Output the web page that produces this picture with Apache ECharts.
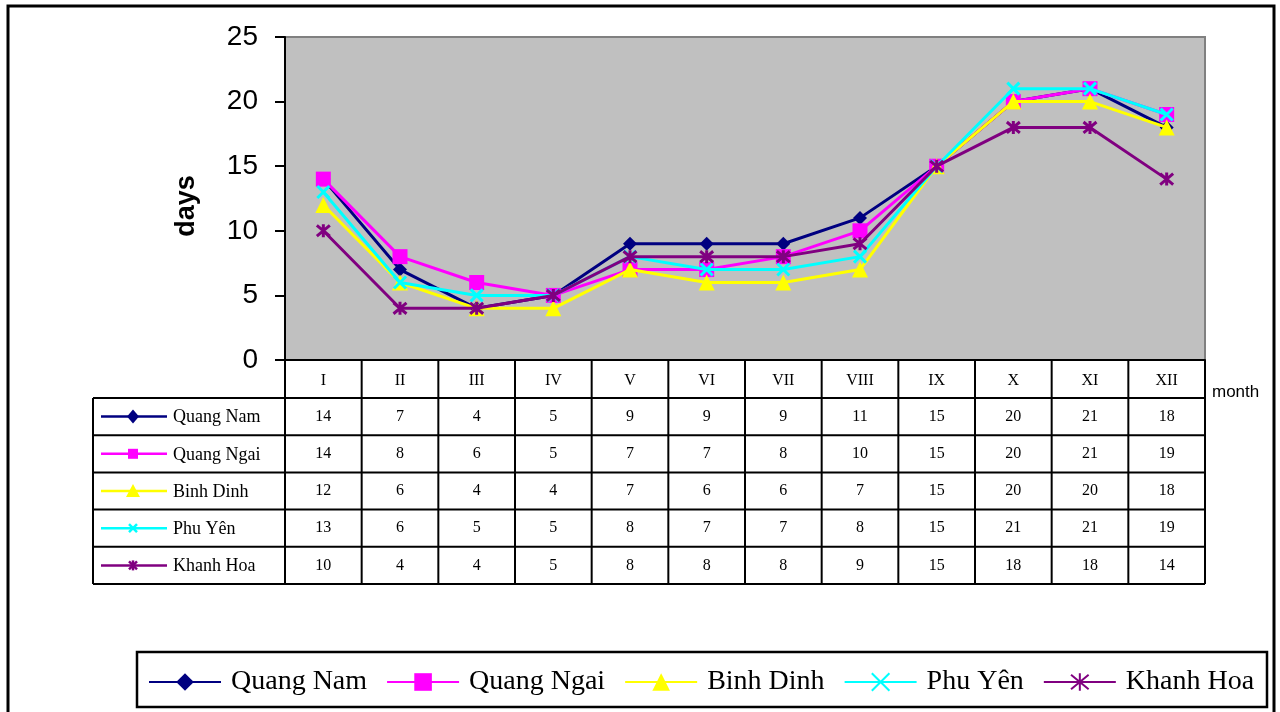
<!DOCTYPE html>
<html>
<head>
<meta charset="utf-8">
<script src="https://cdn.jsdelivr.net/npm/echarts@6/dist/echarts.min.js"></script>
<style>
  html, body { margin: 0; padding: 0; background: #fff; }
  #chart { width: 1280px; height: 712px; }
</style>
</head>
<body>
<div id="chart"></div>
<script>
// Monthly number of days, by province
const months = ['I', 'II', 'III', 'IV', 'V', 'VI', 'VII', 'VIII', 'IX', 'X', 'XI', 'XII'];
const provinces = ['Quang Nam', 'Quang Ngai', 'Binh Dinh', 'Phu Yên', 'Khanh Hoa'];
const quangNam  = [14, 7, 4, 5, 9, 9, 9, 11, 15, 20, 21, 18];
const quangNgai = [14, 8, 6, 5, 7, 7, 8, 10, 15, 20, 21, 19];
const binhDinh  = [12, 6, 4, 4, 7, 6, 6, 7, 15, 20, 20, 18];
const phuYen    = [13, 6, 5, 5, 8, 7, 7, 8, 15, 21, 21, 19];
const khanhHoa  = [10, 4, 4, 5, 8, 8, 8, 9, 15, 18, 18, 14];
const yTicks = [0, 5, 10, 15, 20, 25];

const seriesData = [quangNam, quangNgai, binhDinh, phuYen, khanhHoa];
const colors = ['#000080', '#FF00FF', '#FFFF00', '#00FFFF', '#800080'];
const crossPath = 'path://M0,0L10,10M10,0L0,10';
const starPath = 'path://M0,0L10,10M10,0L0,10M5,-1L5,11';
const symbols = ['diamond', 'rect', 'triangle', crossPath, starPath];
const symbolSizes = [14, 15, 16, 12, 13];

const serif = '"Liberation Serif", "Times New Roman", serif';
const sans = '"Liberation Sans", Arial, sans-serif';

const chart = echarts.init(document.getElementById('chart'));

const series = provinces.map((name, i) => {
  const stroked = i >= 3;
  return {
    name,
    type: 'line',
    data: seriesData[i],
    symbol: symbols[i],
    symbolSize: symbolSizes[i],
    showAllSymbol: true,
    color: colors[i],
    lineStyle: { color: colors[i], width: 3 },
    itemStyle: stroked
      ? { color: colors[i], borderColor: colors[i], borderWidth: 3 }
      : { color: colors[i], borderWidth: 0 },
    emphasis: { disabled: true },
    animation: false,
    z: 3 + i
  };
});

chart.setOption({
  animation: false,
  backgroundColor: '#ffffff',
  grid: {
    left: 285, right: 75, top: 37, bottom: 352,
    show: true,
    backgroundColor: '#C0C0C0',
    borderColor: '#808080',
    borderWidth: 2
  },
  xAxis: {
    type: 'category',
    data: months,
    boundaryGap: true,
    axisLine: { show: true, lineStyle: { color: '#000', width: 2 } },
    axisTick: { show: false },
    axisLabel: {
      show: true, margin: 13, color: '#000',
      fontFamily: serif, fontSize: 16
    },
    splitLine: { show: false }
  },
  yAxis: {
    type: 'value',
    min: yTicks[0],
    max: yTicks[yTicks.length - 1],
    interval: 5,
    axisLine: { show: true, lineStyle: { color: '#000', width: 2 } },
    axisTick: { show: true, inside: false, length: 10, lineStyle: { color: '#000', width: 2 } },
    axisLabel: { margin: 27, color: '#000', fontFamily: sans, fontSize: 28 },
    splitLine: { show: false }
  },
  legend: {
    data: provinces,
    left: 143,
    top: 663,
    itemWidth: 72,
    itemHeight: 22,
    itemGap: 19,
    textStyle: { fontFamily: serif, fontSize: 28, color: '#000', padding: [0, 0, 0, 5] },
    selectedMode: false
  },
  series
});

// Data table under the plot, laid out along the category axis
function buildTable() {
  const els = [];
  const plotLeft = 285, plotRight = 1205;
  const colW = (plotRight - plotLeft) / months.length;
  const headTop = 360, rowTop = 398, rowH = 37.2;
  const tableLeft = 93;
  const tableBottom = rowTop + rowH * provinces.length;
  const lw = 2;

  // outer frame of the whole figure
  els.push({ type: 'rect', shape: { x: 8, y: 6, width: 1266, height: 720 },
    style: { fill: null, stroke: '#000', lineWidth: 3 }, z: 10 });

  // legend frame
  els.push({ type: 'rect', shape: { x: 137, y: 652, width: 1130, height: 55 },
    style: { fill: null, stroke: '#000', lineWidth: 2.5 }, z: 10 });

  // axis title
  els.push({ type: 'text', x: 187, y: 206, rotation: Math.PI / 2,
    style: { text: 'days', fill: '#000', font: 'bold 27px ' + sans, align: 'center', verticalAlign: 'middle' }, z: 11 });

  // horizontal rules
  for (let r = 0; r <= provinces.length; r++) {
    const y = rowTop + r * rowH;
    els.push({ type: 'line', shape: { x1: tableLeft, y1: y, x2: plotRight, y2: y },
      style: { stroke: '#000', lineWidth: lw }, z: 10 });
  }
  // vertical rules
  els.push({ type: 'line', shape: { x1: tableLeft, y1: rowTop, x2: tableLeft, y2: tableBottom },
    style: { stroke: '#000', lineWidth: lw }, z: 10 });
  for (let c = 0; c <= months.length; c++) {
    const x = plotLeft + c * colW;
    els.push({ type: 'line', shape: { x1: x, y1: headTop, x2: x, y2: tableBottom },
      style: { stroke: '#000', lineWidth: lw }, z: 10 });
  }

  // values
  provinces.forEach((name, r) => {
    const cy = rowTop + r * rowH + rowH / 2;
    seriesData[r].forEach((v, c) => {
      const cx = chart.convertToPixel({ xAxisIndex: 0 }, c);
      els.push({ type: 'text', x: cx, y: cy,
        style: { text: String(v), fill: '#000', font: '16px ' + serif, align: 'center', verticalAlign: 'middle' }, z: 11 });
    });
    // row key: line + marker + name
    const col = colors[r];
    els.push({ type: 'line', shape: { x1: 101, y1: cy, x2: 167, y2: cy },
      style: { stroke: col, lineWidth: 2.5 }, z: 11 });
    const mx = 133;
    if (r === 0) {
      els.push({ type: 'polygon', shape: { points: [[mx, cy - 7], [mx + 6, cy], [mx, cy + 7], [mx - 6, cy]] },
        style: { fill: col }, z: 12 });
    } else if (r === 1) {
      els.push({ type: 'rect', shape: { x: mx - 5, y: cy - 5, width: 10, height: 10 },
        style: { fill: col }, z: 12 });
    } else if (r === 2) {
      els.push({ type: 'polygon', shape: { points: [[mx, cy - 7], [mx + 7, cy + 6], [mx - 7, cy + 6]] },
        style: { fill: col }, z: 12 });
    } else {
      const s = 4;
      els.push({ type: 'line', shape: { x1: mx - s, y1: cy - s, x2: mx + s, y2: cy + s },
        style: { stroke: col, lineWidth: 2.5 }, z: 12 });
      els.push({ type: 'line', shape: { x1: mx - s, y1: cy + s, x2: mx + s, y2: cy - s },
        style: { stroke: col, lineWidth: 2.5 }, z: 12 });
      if (r === 4) {
        els.push({ type: 'line', shape: { x1: mx, y1: cy - s - 1, x2: mx, y2: cy + s + 1 },
          style: { stroke: col, lineWidth: 2.5 }, z: 12 });
      }
    }
    els.push({ type: 'text', x: 173, y: cy + 1,
      style: { text: name, fill: '#000', font: '18px ' + serif, align: 'left', verticalAlign: 'middle' }, z: 11 });
  });

  // axis caption for months
  els.push({ type: 'text', x: 1212, y: 392,
    style: { text: 'month', fill: '#000', font: '17px ' + sans, align: 'left', verticalAlign: 'middle' }, z: 11 });

  chart.setOption({ graphic: { elements: els } });
}
buildTable();
</script>
</body>
</html>
